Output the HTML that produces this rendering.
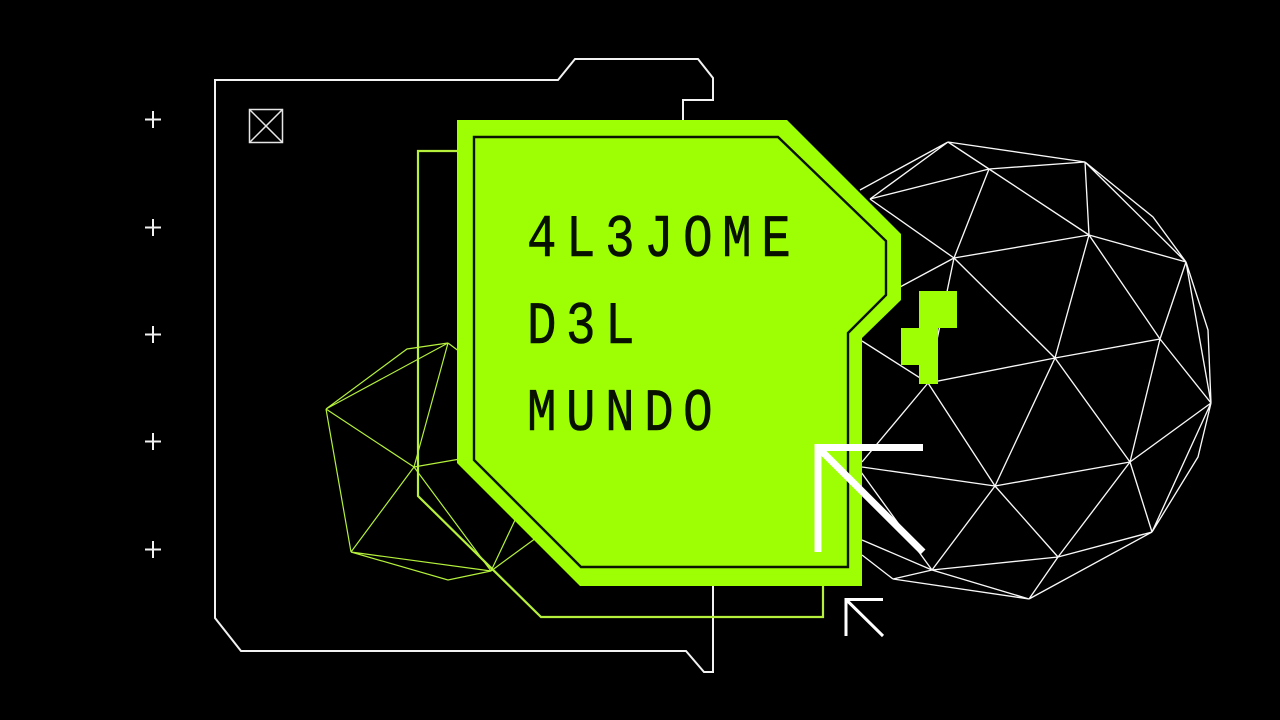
<!DOCTYPE html>
<html><head><meta charset="utf-8"><title>4L3JOME D3L MUNDO</title>
<style>html,body{margin:0;padding:0;background:#000;width:1280px;height:720px;overflow:hidden}svg{display:block}</style></head>
<body>
<svg width="1280" height="720" viewBox="0 0 1280 720" xmlns="http://www.w3.org/2000/svg">
<rect width="1280" height="720" fill="#000"/>
<!-- sphere -->
<g stroke="#f8f8f8" stroke-width="1.35" fill="none">
<path d="M948 142L860 190M948 142L870 199M870 199L989 169M948 142L989 169M948 142L1085 162M989 169L1085 162M1085 162L1089 235M989 169L1089 235M989 169L954 258M870 199L954 258M954 258L1089 235M954 258L1055 358M1089 235L1055 358M1089 235L1160 339M1089 235L1186 262M1085 162L1186 262M1085 162L1153 217L1186 262M1186 262L1160 339M1186 262L1208 330L1211 403M1186 262L1211 403M1160 339L1211 403M1160 339L1055 358M1160 339L1130 462M954 258L900 287M954 258L928 383M862 341L928 383M928 383L1055 358M1055 358L995 486M1055 358L1130 462M1130 462L1211 403M1130 462L995 486M1130 462L1058 557M1130 462L1152 532M1152 532L1058 557M1152 532L1198 457L1211 403M1152 532L1211 403M995 486L928 383M995 486L932 570M995 486L1058 557M1058 557L932 570M1058 557L1029 599M1152 532L1029 599M932 570L893 579M932 570L1029 599M893 579L1029 599M928 383L862 462M862 467L995 486M861 472L932 570M862 540L932 570M862 555L893 579"/>
</g>
<!-- lime polyhedron -->
<g stroke="#b4f03c" stroke-width="1.2" fill="none">
<path d="M326 409L407 349L448 343M326 409L448 343M448 343L414 467M448 343L460 352M326 409L414 467M414 467L460 459M326 409L351 552M414 467L351 552M414 467L491 571M351 552L491 571M351 552L448 580L491 571M491 571L516 518M491 571L536 538"/>
</g>
<!-- frames -->
<path d="M683 121V100H713V78L698 59H575L558 80H215V618L241 651H686L704 672H713V585" fill="none" stroke="#f2f2f2" stroke-width="2"/>
<path d="M458 151H418V496L541 617H823V585" fill="none" stroke="#b6f03c" stroke-width="2.200"/>
<!-- main shape -->
<path d="M457 120H787L901 234V300L862 338V586H580L457 463Z" fill="#9eff05"/>
<path d="M474 137H778L886 241V295L848 333V567H581L474 460Z" fill="none" stroke="#0a1400" stroke-width="2.400"/>
<!-- title -->
<g font-family="'Liberation Mono',monospace" font-size="60" fill="#081000" stroke="#081000" stroke-width=".6" letter-spacing="11.6">
<text transform="translate(527 256) scale(.82 1)">4L3JOME</text>
<text transform="translate(527 343) scale(.82 1)">D3L</text>
<text transform="translate(527 430) scale(.82 1)">MUNDO</text>
</g>
<!-- squiggle -->
<path d="M919 291H957V328H938V384H919V365H901V328H919Z" fill="#9eff05"/>
<!-- x box -->
<g stroke="#e6e6e6" stroke-width="1.5" fill="none">
<rect x="249.500" y="109.500" width="33" height="33"/>
<path d="M250 110L282 142M282 110L250 142"/>
</g>
<!-- plus marks -->
<g stroke="#f2f2f2" stroke-width="2">
<path d="M145 119.500H161M153 111V128"/>
<path d="M145 227.500H161M153 219V236"/>
<path d="M145 334.500H161M153 326V343"/>
<path d="M145 441.500H161M153 433V450"/>
<path d="M145 549.500H161M153 541V558"/>
</g>
<!-- arrows -->
<path d="M923 447.500H818V552M818 447.500L923 552" fill="none" stroke="#fff" stroke-width="7"/>
<path d="M883 599.500H846V636M846 599.500L883 636" fill="none" stroke="#fff" stroke-width="3"/>
</svg>
</body></html>
